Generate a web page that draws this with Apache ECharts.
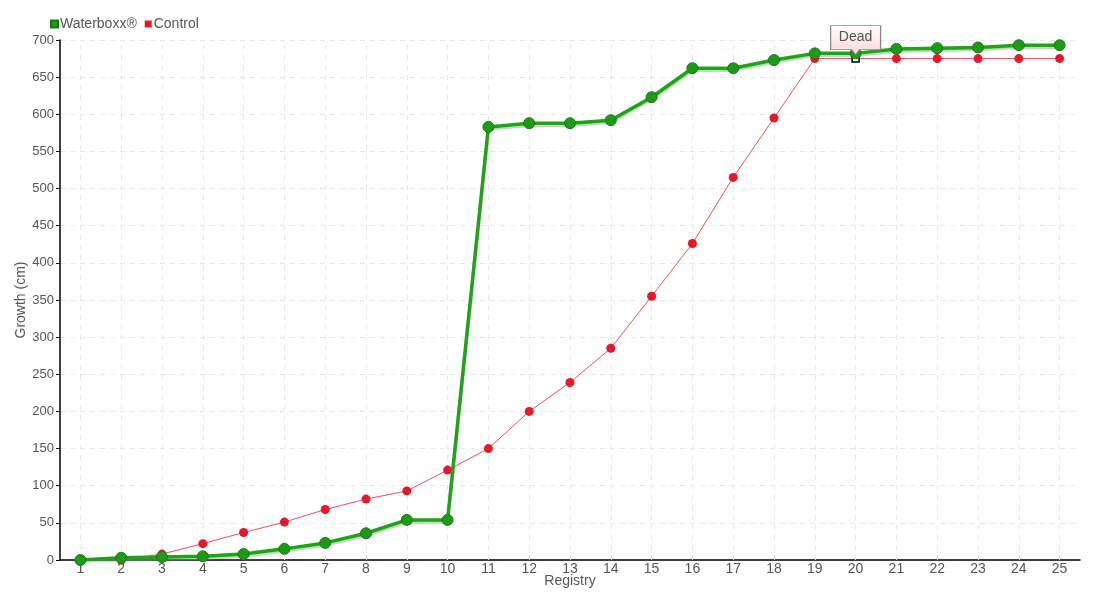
<!DOCTYPE html>
<html><head><meta charset="utf-8">
<script src="https://cdn.jsdelivr.net/npm/echarts@6/dist/echarts.min.js"></script>
<style>html,body{margin:0;padding:0;background:#fff}#c{width:1100px;height:600px}</style>
</head><body><div id="c"></div>
<script>
const categories = ['1','2','3','4','5','6','7','8','9','10','11','12','13','14','15','16','17','18','19','20','21','22','23','24','25'];
const waterboxx = [0, 3, 4, 5, 8, 15, 23, 36, 54, 54, 583, 588, 588, 592, 623, 662, 662, 673, 682, 682, 688, 689, 690, 693, 693];
const control = [0, 0, 8, 22, 37, 51, 68, 82, 93, 121, 150, 200, 239, 285, 355, 426, 515, 595, 675, 675, 675, 675, 675, 675, 675];
const deadIndex = 19;
const deadLabel = 'Dead';
const FONT = "'Liberation Sans Narrow','Liberation Sans',sans-serif";

const controlData = control.map((v, i) => i === deadIndex
  ? { value: v, symbol: 'rect', symbolSize: 7, itemStyle: { color: '#fff', borderColor: '#000', borderWidth: 1.5 } }
  : v);

const chart = echarts.init(document.getElementById('c'));
chart.setOption({
  animation: false,
  textStyle: { fontFamily: FONT, color: '#555' },
  legend: {
    left: 45, top: 12, itemWidth: 7, itemHeight: 7, itemGap: 8,
    icon: 'rect',
    textStyle: { fontFamily: FONT, fontSize: 14, color: '#555', padding: [0, 0, 0, -3] },
    data: ['Waterboxx®', 'Control']
  },
  grid: { left: 60, right: 20, top: 40, bottom: 40, containLabel: false, outerBoundsMode: 'none' },
  xAxis: {
    type: 'category', data: categories, boundaryGap: true,
    name: 'Registry', nameLocation: 'middle', nameGap: 14, nameMoveOverlap: false,
    nameTextStyle: { fontFamily: FONT, fontSize: 14, color: '#555' },
    axisLine: { lineStyle: { color: '#000', width: 1.5 } },
    axisTick: { alignWithLabel: true, length: 4, lineStyle: { color: '#000' } },
    axisLabel: { fontFamily: FONT, fontSize: 14, color: '#555', margin: 2, interval: 0 },
    splitLine: { show: false }
  },
  yAxis: {
    type: 'value', min: 0, max: 700, interval: 50,
    name: 'Growth (cm)', nameLocation: 'middle', nameGap: 32, nameMoveOverlap: false,
    nameTextStyle: { fontFamily: FONT, fontSize: 14, color: '#555' },
    axisLine: { show: true, lineStyle: { color: '#000', width: 1.5 } },
    axisTick: { show: true, length: 4, lineStyle: { color: '#000' } },
    axisLabel: { fontFamily: FONT, fontSize: 13, color: '#555', margin: 6 },
    splitLine: { show: true, lineStyle: { color: '#e8e8e8', type: [5, 5] } }
  },
  series: [
    {
      name: 'Waterboxx®', type: 'line', data: waterboxx, z: 3,
      symbol: 'circle', symbolSize: 11,
      itemStyle: { color: '#1f9a17', borderColor: '#17781a', borderWidth: 1 },
      lineStyle: { color: '#22a11a', width: 3.5, shadowColor: 'rgba(90,190,80,0.45)', shadowOffsetY: 2, shadowBlur: 0 }
    },
    {
      name: 'Control', type: 'line', data: controlData, z: 2,
      symbol: 'circle', symbolSize: 9,
      itemStyle: { color: '#e41a2a' },
      lineStyle: { color: '#f0505e', width: 1 },
      markLine: {
        silent: true, symbol: 'none', z: 1,
        label: { show: false },
        lineStyle: { color: '#e8e8e8', type: [5, 5], width: 1 },
        emphasis: { disabled: true },
        data: categories.map(c => ({ xAxis: c }))
      },
      markPoint: {
        silent: true,
        data: [{ coord: [deadIndex, control[deadIndex]], value: deadLabel }],
        symbol: 'path://M0,0 L50,0 L50,24 L29,24 L25,29 L21,24 L0,24 Z',
        symbolSize: [50, 29], symbolOffset: [0, -18.5],
        itemStyle: {
          color: new echarts.graphic.LinearGradient(0, 0, 0, 1, [
            { offset: 0, color: '#ffffff' }, { offset: 1, color: '#fbd6d6' }
          ]),
          borderColor: '#888', borderWidth: 1
        },
        label: { show: true, formatter: deadLabel, fontFamily: FONT, fontSize: 14, color: '#555', offset: [0, -2.5] }
      }
    }
  ]
});
</script></body></html>
